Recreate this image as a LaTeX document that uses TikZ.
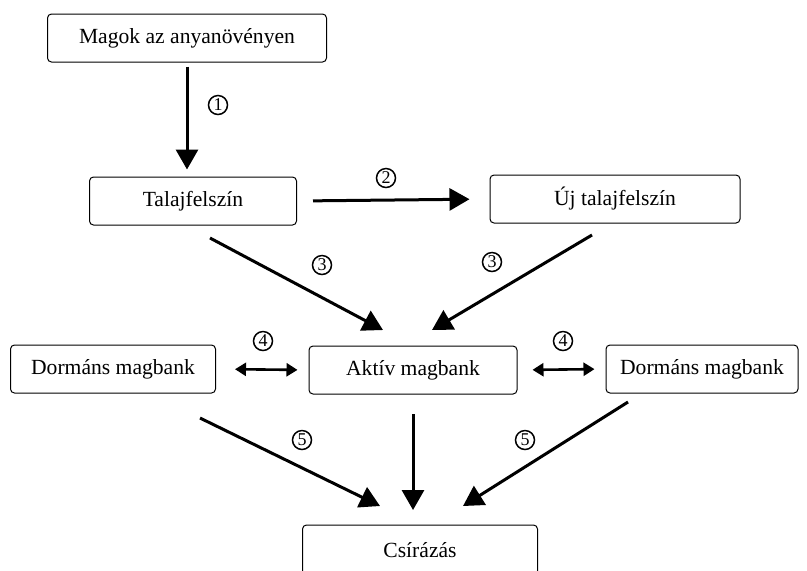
\documentclass[tikz,border=0pt]{standalone}
\usepackage{fontspec}
\setmainfont{Liberation Serif}
\usetikzlibrary{arrows.meta, positioning, calc}

\begin{document}
\begin{tikzpicture}[
    x=0.5pt, y=-0.5pt,
    box/.style={draw, rounded corners=2pt, line width=0.5pt,
                minimum height=24pt, inner sep=0pt,
                font=\fontsize{10.8}{13}\selectfont},
    flow/.style={-{Triangle[length=10pt, width=11pt]}, line width=1.5pt},
    swap/.style={{Triangle[length=5.5pt, width=6.5pt]}-{Triangle[length=5.5pt, width=6.5pt]},
                 line width=1.3pt},
    num/.style={draw, circle, line width=0.75pt, minimum size=9.5pt, inner sep=0pt,
                font=\fontsize{9}{9}\selectfont}
  ]
  \useasboundingbox (0,0) rectangle (807,570);

  % boxes
  \node[box, minimum width=139.5pt] (magok) at (187,38) {Magok az anyanövényen};
  \node[box, minimum width=103.5pt] (talaj) at (193,201) {Talajfelszín};
  \node[box, minimum width=125pt]   (uj)    at (615,199) {Új talajfelszín};
  \node[box, minimum width=102.5pt] (dorm1) at (113,369) {Dormáns magbank};
  \node[box, minimum width=104pt]   (aktiv) at (413,370) {Aktív magbank};
  \node[box, minimum width=96pt]    (dorm2) at (702,369) {Dormáns magbank};
  \node[box, minimum width=117.5pt, minimum height=25pt] (csir) at (420,550) {Csírázás};

  % free ends of the arrows
  \coordinate (m1b) at (magok.south |- talaj.north);
  \coordinate (t3a) at (210,238);  \coordinate (t3b) at (383,330);
  \coordinate (u3a) at (592,235);  \coordinate (u3b) at (432,330);
  \coordinate (d5a) at (200,418);  \coordinate (d5b) at (380,506);
  \coordinate (e5a) at (628,402);  \coordinate (e5b) at (463,506);
  \coordinate (akb) at (413,414);  \coordinate (csb) at (413,510);

  % arrows
  \draw[flow, shorten <=2pt, shorten >=3.5pt] (magok.south) -- (m1b);
  \draw[flow, shorten <=8pt, shorten >=10pt] (talaj.east) -- (uj.west);
  \draw[flow] (t3a) -- (t3b);
  \draw[flow] (u3a) -- (u3b);
  \draw[swap, shorten <=9.5pt, shorten >=5.5pt] (dorm1.east) -- (aktiv.west);
  \draw[swap, shorten <=7.5pt, shorten >=5.5pt] (aktiv.east) -- (dorm2.west);
  \draw[flow] (d5a) -- (d5b);
  \draw[flow] (akb) -- (csb);
  \draw[flow] (e5a) -- (e5b);

  % step numbers
  \node[num] (n1)  at (218,105) {1};
  \node[num] (n2)  at (386,178) {2};
  \node[num] (n3a) at (322,265) {3};
  \node[num] (n3b) at (492,262) {3};
  \node[num] (n4a) at (263,341) {4};
  \node[num] (n4b) at (563,341) {4};
  \node[num] (n5a) at (302,440) {5};
  \node[num] (n5b) at (525,440) {5};
\end{tikzpicture}
\end{document}
